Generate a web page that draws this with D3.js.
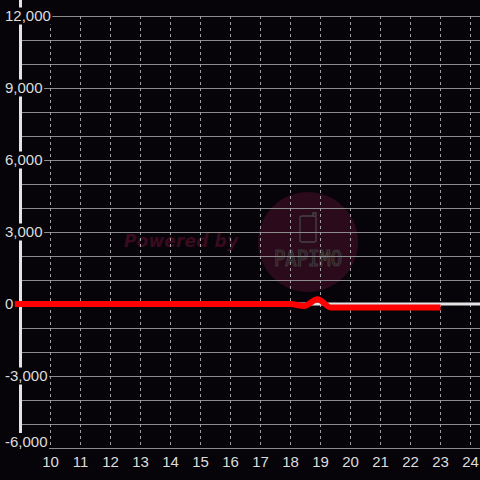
<!DOCTYPE html>
<html>
<head>
<meta charset="utf-8">
<script src="https://cdn.jsdelivr.net/npm/d3@7"></script>
<style>
  body { margin: 0; background: #060409; }
  svg { display: block; }
</style>
</head>
<body>
<div id="chart"></div>
<script>
// axis values
const xTickValues = [10, 11, 12, 13, 14, 15, 16, 17, 18, 19, 20, 21, 22, 23, 24];
const yTickValues = [-6000, -3000, 0, 3000, 6000, 9000, 12000];
const yGridValues = [-6000, -5000, -4000, -3000, -2000, -1000, 0, 1000, 2000, 3000, 4000, 5000, 6000, 7000, 8000, 9000, 10000, 11000, 12000];

// series
const seriesX = [8.5, 9, 10, 11, 12, 13, 14, 15, 16, 17, 18, 18.45, 18.9, 19.35, 20, 21, 22, 23];
const seriesY = [0, 0, 0, 0, 0, 0, 0, 0, 0, 0, 0, -80, 200, -150, -150, -150, -150, -150];

const width = 480, height = 480;
const bg = "#060409";

let svg = d3.select("#chart").append("svg")
    .attr("width", width)
    .attr("height", height);

svg.append("rect").attr("width", width).attr("height", height).attr("fill", bg);

let x = d3.scaleLinear().domain([9, 24]).range([20.5, 470.5]);
let y = d3.scaleLinear().domain([-6000, 12000]).range([448, 16]);

// watermark (sits under the grid)
let wm = svg.append("g").attr("class", "watermark");
wm.append("circle").attr("cx", 308).attr("cy", 242).attr("r", 50).attr("fill", "#2b0a1b");
wm.append("text")
    .attr("x", 124).attr("y", 247)
    .attr("font-family", "DejaVu Sans, sans-serif")
    .attr("font-weight", "bold").attr("font-style", "italic")
    .attr("font-size", 17)
    .attr("textLength", 114)
    .attr("fill", "#3a0b1e")
    .text("Powered by");
wm.append("rect")
    .attr("x", 300).attr("y", 216).attr("width", 16).attr("height", 26).attr("rx", 2)
    .attr("fill", "none").attr("stroke", "#444").attr("stroke-width", 1.3);
wm.append("path")
    .attr("d", "M313,216 L313,213 L316,213 L316,216")
    .attr("fill", "none").attr("stroke", "#444").attr("stroke-width", 1.3);
wm.append("text")
    .attr("x", 274).attr("y", 266)
    .attr("font-family", "DejaVu Sans Mono, monospace")
    .attr("font-size", 21)
    .attr("textLength", 68).attr("lengthAdjust", "spacingAndGlyphs")
    .attr("fill", "none").attr("stroke", "#3c3c3c").attr("stroke-width", 1.2)
    .text("PAPIMO");

// horizontal grid
svg.append("g").selectAll("line")
    .data(yGridValues)
    .enter().append("line")
    .attr("x1", d => yTickValues.includes(d) ? 0 : 22)
    .attr("x2", width)
    .attr("y1", d => Math.round(y(d)) + 0.5)
    .attr("y2", d => Math.round(y(d)) + 0.5)
    .attr("stroke", "#8c8c8c")
    .attr("stroke-width", 1);

// vertical dashed grid
svg.append("g").selectAll("line")
    .data(xTickValues)
    .enter().append("line")
    .attr("x1", d => x(d)).attr("x2", d => x(d))
    .attr("y1", y(12000)).attr("y2", y(-6000))
    .attr("stroke", "#a0a0a0")
    .attr("stroke-width", 1)
    .attr("stroke-dasharray", "3,3");

// zero line
svg.append("line")
    .attr("x1", x(9)).attr("x2", width)
    .attr("y1", y(0)).attr("y2", y(0))
    .attr("stroke", "#e4e4e4").attr("stroke-width", 3);

// y axis line
svg.append("line")
    .attr("x1", x(9)).attr("x2", x(9))
    .attr("y1", 0).attr("y2", y(-6000))
    .attr("stroke", "#e4e4e4").attr("stroke-width", 3);

// series line
let line = d3.line()
    .x((d, i) => x(seriesX[i]))
    .y(d => y(d))
    .curve(d3.curveMonotoneX);

svg.append("path")
    .datum(seriesY)
    .attr("d", line)
    .attr("fill", "none")
    .attr("stroke", "#ff0000")
    .attr("stroke-width", 6)
    .attr("stroke-linejoin", "round");

// y labels with dark boxes
let format = d3.format(",");
let yLab = svg.append("g").attr("font-family", "Liberation Sans, Arial, sans-serif")
    .attr("font-size", 15).attr("fill", "#dddddd");

yTickValues.forEach(function (v) {
    let cy = Math.min(y(v), 441.5);
    let t = yLab.append("text")
        .attr("x", 5)
        .attr("y", cy + 5.3)
        .text(format(v).replace("−", "-"));
    let w = t.node().getComputedTextLength();
    yLab.insert("rect", "text")
        .attr("x", 0).attr("y", cy - 8.5)
        .attr("width", 5 + w + 1.5).attr("height", 17)
        .attr("fill", bg);
});

// x labels
svg.append("g").selectAll("text")
    .data(xTickValues)
    .enter().append("text")
    .attr("x", d => x(d))
    .attr("y", 466.5)
    .attr("text-anchor", "middle")
    .attr("font-family", "Liberation Sans, Arial, sans-serif")
    .attr("font-size", 15)
    .attr("fill", "#dddddd")
    .text(d => d);
</script>
</body>
</html>
